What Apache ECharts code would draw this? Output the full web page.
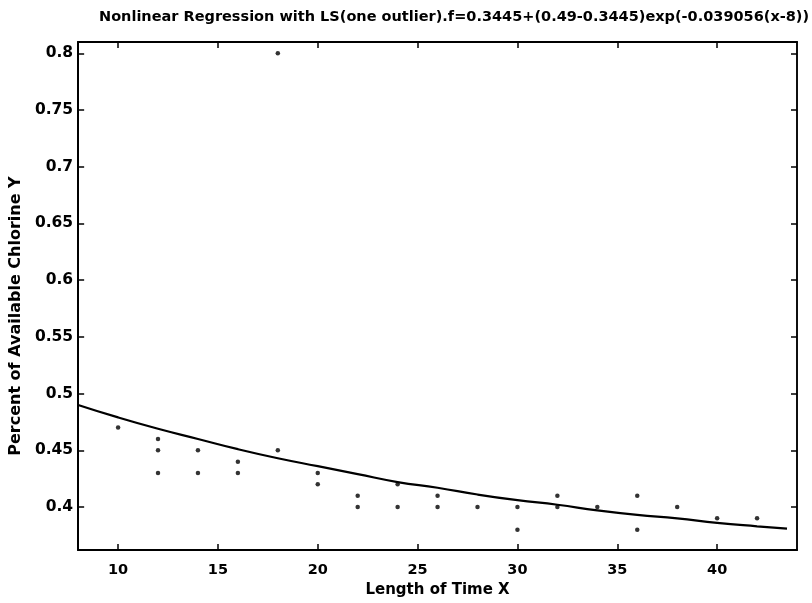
<!DOCTYPE html>
<html>
<head>
<meta charset="utf-8">
<script src="https://cdn.jsdelivr.net/npm/echarts@6/dist/echarts.min.js"></script>
<style>
  html, body { margin: 0; padding: 0; background: #fff; }
  #main { width: 812px; height: 603px; }
</style>
</head>
<body>
<div id="main"></div>
<script>
// 观测点 (x = length of time, y = available chlorine)
var obsX = [10, 12, 12, 12, 14, 14, 16, 16, 18, 18, 20, 20, 22, 22, 24, 24, 26, 26, 28, 30, 30, 32, 32, 34, 36, 36, 38, 40, 42];
var obsY = [0.47, 0.46, 0.45, 0.43, 0.45, 0.43, 0.44, 0.43, 0.45, 0.80, 0.43, 0.42, 0.41, 0.40, 0.42, 0.40, 0.41, 0.40, 0.40, 0.40, 0.38, 0.41, 0.40, 0.40, 0.41, 0.38, 0.40, 0.39, 0.39];

// 拟合曲线
var fitX = [8, 10, 12, 14, 16, 18, 20, 22, 24, 26, 28, 30, 32, 34, 36, 38, 40, 42, 43.5];
var fitY = [0.490, 0.479, 0.469, 0.460, 0.451, 0.443, 0.436, 0.429, 0.422, 0.417, 0.411, 0.406, 0.402, 0.397, 0.393, 0.390, 0.386, 0.383, 0.381];

// 刻度
var xTicks = [10, 15, 20, 25, 30, 35, 40];
var yTicks = [0.4, 0.45, 0.5, 0.55, 0.6, 0.65, 0.7, 0.75, 0.8];

var xMin = 8, xMax = 44, yMin = 0.362, yMax = 0.81;

var zip = function(a, b){
  var out = [];
  for (var i = 0; i < a.length; i++) out.push([a[i], b[i]]);
  return out;
};

var font = 'DejaVu Sans';
var chart = echarts.init(document.getElementById('main'));

var tickStyle = function(vals){
  return { show: true, inside: true, length: 6, customValues: vals,
           lineStyle: { color: '#000', width: 1.5 } };
};

var option = {
  backgroundColor: '#fff',
  animation: false,
  title: {
    text: 'Nonlinear Regression with LS(one outlier).f=0.3445+(0.49-0.3445)exp(-0.039056(x-8))',
    left: 94,
    top: 5,
    textStyle: { fontFamily: font, fontSize: 14.5, fontWeight: 'bold', color: '#000' }
  },
  grid: {
    left: 78, right: 15, top: 42, bottom: 45,
    show: true, borderColor: '#000', borderWidth: 1.5, backgroundColor: '#fff'
  },
  xAxis: [{
    type: 'value', min: xMin, max: xMax,
    name: 'Length of Time X', nameLocation: 'middle', nameGap: 32,
    nameTextStyle: { fontFamily: font, fontSize: 15, fontWeight: 'bold', color: '#000' },
    axisLine: { show: true, onZero: false, lineStyle: { color: '#000', width: 2 } },
    axisTick: tickStyle(xTicks),
    axisLabel: { customValues: xTicks, margin: 13, fontFamily: font, fontSize: 14.5, fontWeight: 'bold', color: '#000' },
    splitLine: { show: false }
  }, {
    type: 'value', min: xMin, max: xMax, position: 'top',
    axisLine: { show: true, onZero: false, lineStyle: { color: '#000', width: 2 } },
    axisTick: tickStyle(xTicks),
    axisLabel: { show: false },
    splitLine: { show: false }
  }],
  yAxis: [{
    type: 'value', min: yMin, max: yMax,
    name: 'Percent of Available Chlorine Y', nameLocation: 'middle', nameGap: 45,
    nameTextStyle: { fontFamily: font, fontSize: 16, fontWeight: 'bold', color: '#000', padding: [0, 40, 0, 0] },
    axisLine: { show: true, onZero: false, lineStyle: { color: '#000', width: 2 } },
    axisTick: tickStyle(yTicks),
    axisLabel: { customValues: yTicks, margin: 5, fontFamily: font, fontSize: 15.5, fontWeight: 'bold', color: '#000' },
    splitLine: { show: false }
  }, {
    type: 'value', min: yMin, max: yMax, position: 'right',
    axisLine: { show: true, onZero: false, lineStyle: { color: '#000', width: 1.5 } },
    axisTick: tickStyle(yTicks),
    axisLabel: { show: false },
    splitLine: { show: false }
  }],
  series: [{
    name: 'fit',
    type: 'line',
    data: zip(fitX, fitY),
    smooth: true,
    showSymbol: false,
    lineStyle: { color: '#000', width: 2.2 },
    z: 2
  }, {
    name: 'obs',
    type: 'scatter',
    data: zip(obsX, obsY),
    symbol: 'circle',
    symbolSize: 4.5,
    itemStyle: { color: '#000' },
    z: 3
  }]
};

chart.setOption(option);
</script>
</body>
</html>
